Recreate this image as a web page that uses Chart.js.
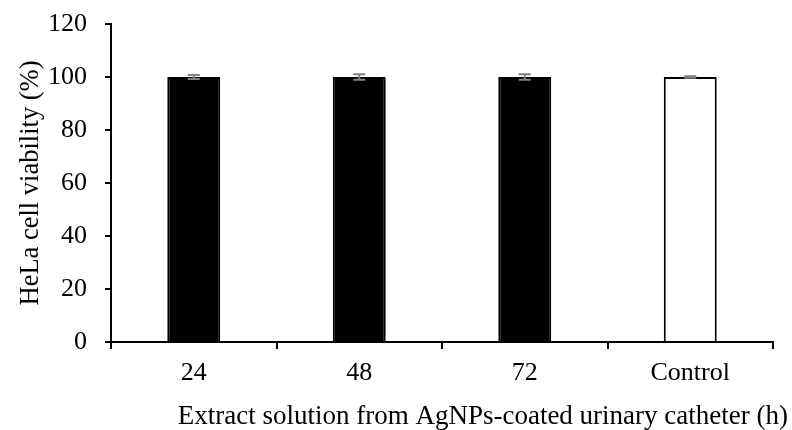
<!DOCTYPE html>
<html lang="en">
<head>
    <meta charset="UTF-8">
    <title>HeLa cell viability</title>
    <script src="https://cdn.jsdelivr.net/npm/chart.js"></script>
    <style>
        html, body {
            margin: 0;
            padding: 0;
            background: #fff;
        }
        #wrap {
            width: 792px;
            height: 430px;
        }
    </style>
</head>
<body>
<div id="wrap">
    <canvas id="viabilityChart" width="792" height="430"></canvas>
</div>

<script>
    // data
    const categories = ["24", "48", "72", "Control"];
    const viability = [100, 100, 100, 100];
    const errors = [0.8, 1.0, 1.0, 0.3];
    const fillColors = ["#000000", "#000000", "#000000", "#ffffff"];
    const yTicks = [0, 20, 40, 60, 80, 100, 120];

    const serif = "'Liberation Serif', 'Times New Roman', serif";

    // gray error bars drawn through the y scale
    const errorBars = {
        id: 'errorBars',
        afterDatasetsDraw(chart) {
            const ctx = chart.ctx;
            const yScale = chart.scales.y;
            const meta = chart.getDatasetMeta(0);
            ctx.save();
            ctx.strokeStyle = "#808080";
            ctx.lineWidth = 2;
            meta.data.forEach((bar, i) => {
                const top = yScale.getPixelForValue(viability[i] + errors[i]);
                const bottom = yScale.getPixelForValue(viability[i] - errors[i]);
                ctx.beginPath();
                ctx.moveTo(bar.x, top);
                ctx.lineTo(bar.x, bottom);
                ctx.moveTo(bar.x - 6, top);
                ctx.lineTo(bar.x + 6, top);
                ctx.moveTo(bar.x - 6, bottom);
                ctx.lineTo(bar.x + 6, bottom);
                ctx.stroke();
            });
            ctx.restore();
        }
    };

    // x axis title sits right of centre in the original
    const xTitle = {
        id: 'xTitle',
        afterDraw(chart) {
            const ctx = chart.ctx;
            ctx.save();
            ctx.fillStyle = "#000";
            ctx.font = "27px " + serif;
            ctx.textAlign = "right";
            ctx.textBaseline = "alphabetic";
            ctx.fillText("Extract solution from AgNPs-coated urinary catheter (h)", 788, 424);
            ctx.restore();
        }
    };

    new Chart(document.getElementById("viabilityChart"), {
        type: 'bar',
        data: {
            labels: categories,
            datasets: [{
                data: viability,
                backgroundColor: fillColors,
                borderColor: "#000000",
                borderWidth: 2,
                categoryPercentage: 1.0,
                barPercentage: 0.32
            }]
        },
        options: {
            responsive: false,
            animation: false,
            layout: {
                padding: { top: 24, right: 19, bottom: 0, left: 0 }
            },
            plugins: {
                legend: { display: false },
                tooltip: { enabled: false }
            },
            scales: {
                x: {
                    afterFit(scale) { scale.height = 88; },
                    border: { display: true, color: "#000", width: 2 },
                    grid: {
                        offset: true,
                        drawOnChartArea: false,
                        drawTicks: true,
                        tickLength: 7,
                        color: "#000",
                        lineWidth: 2
                    },
                    ticks: {
                        color: "#000",
                        padding: 9,
                        font: { family: serif, size: 26 }
                    }
                },
                y: {
                    min: 0,
                    max: 120,
                    afterFit(scale) {
                        scale.width = 111;
                        scale.paddingTop = 0;
                        scale.paddingBottom = 0;
                    },
                    afterBuildTicks(scale) {
                        scale.ticks = yTicks.map(v => ({ value: v }));
                    },
                    border: { display: true, color: "#000", width: 2 },
                    grid: {
                        drawOnChartArea: false,
                        drawTicks: true,
                        tickLength: 6,
                        color: "#000",
                        lineWidth: 2
                    },
                    ticks: {
                        color: "#000",
                        padding: 18,
                        font: { family: serif, size: 26 }
                    },
                    title: {
                        display: true,
                        text: "HeLa cell viability (%)",
                        color: "#000",
                        padding: { top: 15, bottom: 0 },
                        font: { family: serif, size: 26.5 }
                    }
                }
            }
        },
        plugins: [errorBars, xTitle]
    });
</script>
</body>
</html>
